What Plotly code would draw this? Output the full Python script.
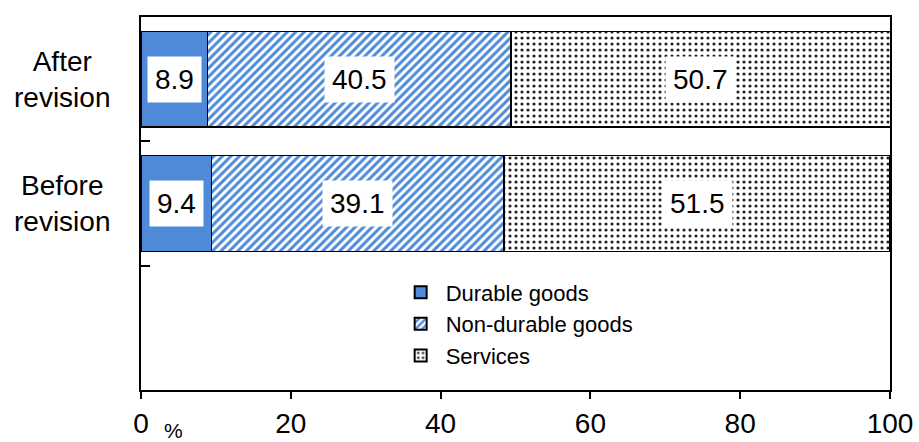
import plotly.graph_objects as go

categories = ["Before revision", "After revision"]
category_labels = ["Before<br>revision", "After<br>revision"]
series_names = ["Durable goods", "Non-durable goods", "Services"]
durable = [9.4, 8.9]
non_durable = [39.1, 40.5]
services = [51.5, 50.7]
x_ticks = [0, 20, 40, 60, 80, 100]

FONT = "Liberation Sans, Arial, sans-serif"
BLUE = "#4e8ad8"

styles = [
    dict(color=BLUE),
    dict(color="white", pattern=dict(shape="/", fgcolor=BLUE, bgcolor="white",
                                     size=6, solidity=0.5, fillmode="replace")),
    dict(color="white", pattern=dict(shape=".", fgcolor="#222222", bgcolor="white",
                                     size=6, solidity=0.22, fillmode="replace")),
]

fig = go.Figure()
series = [durable, non_durable, services]
for name, vals, st in zip(series_names, series, styles):
    fig.add_trace(go.Bar(
        y=categories, x=vals, name=name, orientation="h", width=0.77,
        marker=dict(**st, line=dict(color="black", width=1.6)),
    ))

# value labels in white boxes at each segment's middle
for i, cat in enumerate(categories):
    start = 0.0
    for vals in series:
        v = vals[i]
        fig.add_annotation(
            x=start + v / 2, y=cat, xref="x", yref="y", text=f"{v:.1f}",
            showarrow=False, bgcolor="white", borderpad=7,
            font=dict(family=FONT, size=28, color="black"),
        )
        start += v

# category labels, centred over two lines
for cat, lab in zip(categories, category_labels):
    fig.add_annotation(
        x=-0.105, y=cat, xref="paper", yref="y", text=lab, showarrow=False,
        xanchor="center", align="center",
        font=dict(family=FONT, size=28, color="black"),
    )

fig.add_annotation(
    x=0.043, y=-0.075, xref="paper", yref="paper", text="%", showarrow=False,
    xanchor="center", yanchor="top", borderpad=0,
    font=dict(family=FONT, size=21, color="black"),
)

fig.update_layout(
    width=919, height=442, barmode="stack",
    margin=dict(l=141, r=29, t=17, b=52, autoexpand=False),
    paper_bgcolor="white", plot_bgcolor="white",
    font=dict(family=FONT, color="black"),
    legend=dict(
        x=0.340, y=0.318, xanchor="left", yanchor="top",
        traceorder="normal", bgcolor="rgba(0,0,0,0)",
        font=dict(family=FONT, size=22, color="black"),
        itemsizing="constant", tracegroupgap=0, itemwidth=40,
    ),
    xaxis=dict(
        range=[0, 100], tickvals=x_ticks, ticks="outside", ticklen=7,
        tickwidth=1.5, tickcolor="black", showline=True, linecolor="black",
        linewidth=1.8, mirror=True, showgrid=False, zeroline=False,
        automargin=False,
        tickfont=dict(family=FONT, size=28, color="black"),
    ),
    yaxis=dict(
        type="category", categoryorder="array", categoryarray=categories,
        range=[-1.5, 1.5], tickson="boundaries", ticks="inside", ticklen=9,
        tickwidth=1.5, tickcolor="black", showticklabels=False,
        showline=True, linecolor="black", linewidth=1.8, mirror=True,
        showgrid=False, zeroline=False, automargin=False,
    ),
)

fig.write_html("out.html")
